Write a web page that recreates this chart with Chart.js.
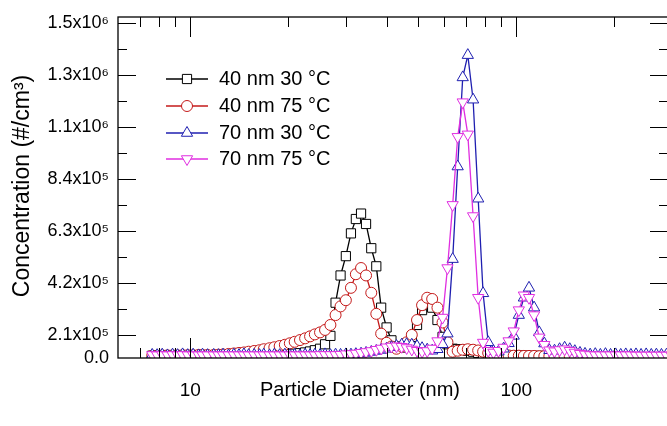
<!DOCTYPE html>
<html>
<head>
<meta charset="utf-8">
<script src="https://cdn.jsdelivr.net/npm/chart.js@4.4.1/dist/chart.umd.min.js"></script>
<style>
  html, body { margin: 0; padding: 0; overflow: hidden; background: #fff; }
</style>
</head>
<body>
<canvas id="chart" width="680" height="426"></canvas>
<script>
// SMPS channel diameters (nm), 64 channels per decade
const diameters = [
  7.64, 7.91, 8.20, 8.51, 8.82, 9.14, 9.47, 9.82, 10.2, 10.6,
  10.9, 11.3, 11.8, 12.2, 12.6, 13.1, 13.6, 14.1, 14.6, 15.1,
  15.7, 16.3, 16.8, 17.5, 18.1, 18.8, 19.5, 20.2, 20.9, 21.7,
  22.5, 23.3, 24.1, 25.0, 25.9, 26.9, 27.9, 28.9, 30.0, 31.1,
  32.2, 33.4, 34.6, 35.9, 37.2, 38.5, 40.0, 41.4, 42.9, 44.5,
  46.1, 47.8, 49.6, 51.4, 53.3, 55.2, 57.3, 59.4, 61.5, 63.8,
  66.1, 68.5, 71.0, 73.7, 76.4, 79.1, 82.0, 85.1, 88.2, 91.4,
  94.7, 98.2, 101.8, 105.5, 109.4, 113.4, 117.6, 121.9, 126.3, 131.0,
  135.8, 140.7, 145.9, 151.2, 156.8, 162.5, 168.5, 174.7, 181.1, 187.7,
  194.6, 201.7, 209.1, 216.7, 224.7, 232.9, 241.4, 250.3, 259.5, 269.0,
  278.8, 289.0, 299.6
];

// concentrations (#/cm3), read against the labelled ticks
const conc40nm30C = [
  1.26e5, 1.27e5, 1.26e5, 1.27e5, 1.27e5, 1.26e5, 1.27e5, 1.27e5, 1.27e5, 1.26e5,
  1.27e5, 1.27e5, 1.27e5, 1.27e5, 1.28e5, 1.27e5, 1.28e5, 1.28e5, 1.28e5, 1.28e5,
  1.29e5, 1.29e5, 1.29e5, 1.29e5, 1.30e5, 1.30e5, 1.31e5, 1.32e5, 1.34e5, 1.36e5,
  1.39e5, 1.43e5, 1.48e5, 1.54e5, 1.72e5, 2.06e5, 3.4e5, 4.5e5, 5.28e5, 6.2e5,
  6.78e5, 7.0e5, 6.58e5, 5.6e5, 4.87e5, 3.2e5, 2.4e5, 1.88e5, 1.63e5, 1.59e5,
  1.76e5, 2.02e5, 2.5e5, 3.1e5, 3.3e5, 3.2e5, 2.7e5, 2.02e5, 1.72e5, 1.54e5,
  1.52e5, 1.50e5, 1.46e5, 1.42e5, 1.37e5, 1.33e5, 1.30e5, 1.29e5, 1.27e5, 1.26e5,
  1.26e5, 1.26e5, 1.26e5, 1.26e5, 1.25e5, 1.25e5, 1.25e5, 1.25e5, 1.25e5, 1.25e5,
  1.24e5, 1.24e5, 1.24e5, 1.24e5
];
const conc40nm75C = [
  1.26e5, 1.26e5, 1.27e5, 1.27e5, 1.27e5, 1.27e5, 1.28e5, 1.28e5, 1.28e5, 1.29e5,
  1.29e5, 1.29e5, 1.29e5, 1.30e5, 1.31e5, 1.33e5, 1.35e5, 1.37e5, 1.39e5, 1.42e5,
  1.45e5, 1.48e5, 1.52e5, 1.56e5, 1.60e5, 1.65e5, 1.70e5, 1.76e5, 1.82e5, 1.89e5,
  1.96e5, 2.04e5, 2.12e5, 2.2e5, 2.3e5, 2.5e5, 2.9e5, 3.25e5, 3.5e5, 4.0e5,
  4.55e5, 4.8e5, 4.5e5, 3.8e5, 2.95e5, 2.15e5, 1.78e5, 1.63e5, 1.54e5, 1.63e5,
  1.80e5, 2.1e5, 2.7e5, 3.3e5, 3.6e5, 3.55e5, 3.2e5, 2.6e5, 1.8e5, 1.42e5,
  1.46e5, 1.50e5, 1.52e5, 1.50e5, 1.47e5, 1.42e5, 1.37e5, 1.33e5, 1.30e5, 1.28e5,
  1.27e5, 1.26e5, 1.26e5, 1.25e5, 1.25e5, 1.25e5, 1.24e5, 1.24e5, 1.24e5, 1.24e5,
  1.23e5, 1.23e5, 1.23e5, 1.23e5
];
const conc70nm30C = [
  1.29e5, 1.28e5, 1.30e5, 1.27e5, 1.30e5, 1.28e5, 1.31e5, 1.28e5, 1.30e5, 1.27e5,
  1.30e5, 1.28e5, 1.29e5, 1.28e5, 1.30e5, 1.27e5, 1.30e5, 1.28e5, 1.31e5, 1.28e5,
  1.29e5, 1.28e5, 1.30e5, 1.27e5, 1.30e5, 1.28e5, 1.30e5, 1.28e5, 1.29e5, 1.27e5,
  1.30e5, 1.28e5, 1.30e5, 1.28e5, 1.31e5, 1.28e5, 1.30e5, 1.29e5, 1.31e5, 1.30e5,
  1.32e5, 1.34e5, 1.37e5, 1.41e5, 1.45e5, 1.49e5, 1.54e5, 1.60e5, 1.65e5, 1.70e5,
  1.72e5, 1.70e5, 1.64e5, 1.56e5, 1.50e5, 1.46e5, 1.52e5, 1.72e5, 2.15e5, 5.16e5,
  8.9e5, 1.25e6, 1.34e6, 1.16e6, 7.6e5, 3.78e5, 1.80e5, 1.44e5, 1.42e5, 1.54e5,
  1.76e5, 2.06e5, 2.9e5, 3.6e5, 4.0e5, 3.2e5, 2.2e5, 1.75e5, 1.48e5, 1.46e5,
  1.52e5, 1.58e5, 1.52e5, 1.44e5, 1.37e5, 1.33e5, 1.30e5, 1.32e5, 1.29e5, 1.32e5,
  1.29e5, 1.31e5, 1.29e5, 1.31e5, 1.29e5, 1.31e5, 1.29e5, 1.31e5, 1.29e5, 1.30e5,
  1.29e5, 1.30e5, 1.29e5
];
const conc70nm75C = [
  1.29e5, 1.28e5, 1.29e5, 1.28e5, 1.29e5, 1.28e5, 1.29e5, 1.28e5, 1.28e5, 1.28e5,
  1.28e5, 1.28e5, 1.28e5, 1.28e5, 1.28e5, 1.28e5, 1.28e5, 1.28e5, 1.28e5, 1.28e5,
  1.28e5, 1.28e5, 1.28e5, 1.28e5, 1.28e5, 1.28e5, 1.28e5, 1.28e5, 1.28e5, 1.28e5,
  1.28e5, 1.28e5, 1.28e5, 1.29e5, 1.29e5, 1.29e5, 1.29e5, 1.30e5, 1.32e5, 1.33e5,
  1.35e5, 1.38e5, 1.41e5, 1.45e5, 1.50e5, 1.55e5, 1.60e5, 1.63e5, 1.64e5, 1.62e5,
  1.57e5, 1.51e5, 1.46e5, 1.43e5, 1.45e5, 1.55e5, 1.85e5, 2.8e5, 4.8e5, 7.35e5,
  1.01e6, 1.15e6, 1.02e6, 6.9e5, 3.6e5, 1.79e5, 1.46e5, 1.39e5, 1.46e5, 1.59e5,
  1.85e5, 2.25e5, 3.1e5, 3.7e5, 3.6e5, 2.9e5, 2.0e5, 1.7e5, 1.48e5, 1.44e5,
  1.49e5, 1.52e5, 1.46e5, 1.39e5, 1.34e5, 1.31e5, 1.29e5, 1.28e5, 1.28e5, 1.28e5,
  1.28e5, 1.28e5, 1.28e5, 1.28e5, 1.28e5, 1.27e5, 1.27e5, 1.27e5, 1.27e5, 1.27e5,
  1.27e5, 1.27e5, 1.27e5
];

const seriesNames = ['40 nm 30 °C', '40 nm 75 °C', '70 nm 30 °C', '70 nm 75 °C'];
const seriesColors = ['#000000', '#c41a1a', '#1f1fb0', '#e02ee0'];
const seriesMarkers = ['rect', 'circle', 'triangle', 'triangle'];
const seriesRotation = [0, 0, 0, 180];
const seriesValues = [conc40nm30C, conc40nm75C, conc70nm30C, conc70nm75C];

const yMin = 1.166e5;
const yMax = 1.494e6;
const yTickValues = [yMin, 2.1e5, 4.2e5, 6.3e5, 8.4e5, 1.05e6, 1.26e6, 1.47e6];
const yTickLabels = ['0.0', '2.1x10⁵', '4.2x10⁵', '6.3x10⁵', '8.4x10⁵', '1.1x10⁶', '1.3x10⁶', '1.5x10⁶'];
const xTickValues = [10, 100];
const xMinorTicks = [7, 8, 9, 20, 30, 40, 50, 60, 70, 80, 90, 200];

const FONT = 'Liberation Sans, Arial, sans-serif';
const markerRadius = [6.5, 5.5, 6.5, 6.5];

function buildDataset(i) {
  return {
    label: seriesNames[i],
    data: seriesValues[i].map((v, k) => ({ x: diameters[k], y: v })),
    borderColor: seriesColors[i],
    borderWidth: 1.3,
    backgroundColor: '#ffffff',
    pointStyle: seriesMarkers[i],
    pointRotation: seriesRotation[i],
    pointRadius: markerRadius[i],
    pointBorderWidth: 1,
    pointBorderColor: seriesColors[i],
    pointBackgroundColor: '#ffffff',
    tension: 0,
    fill: false
  };
}

// draw order: later legend entries on top
const datasets = [3, 2, 1, 0].map(buildDataset);

const framePlugin = {
  id: 'frame',
  afterDraw(chart) {
    const { ctx, chartArea: a, scales } = chart;
    const xs = scales.x, ys = scales.y;
    ctx.save();
    ctx.strokeStyle = '#000';
    ctx.lineWidth = 1.3;
    ctx.strokeRect(a.left, a.top, a.right - a.left, a.bottom - a.top);

    ctx.lineWidth = 1;
    ctx.beginPath();
    // y ticks, inside on both sides
    for (let k = 2; k <= 14; k++) {
      const v = k * 1.05e5;
      const py = Math.round(ys.getPixelForValue(v)) + 0.5;
      const len = k % 2 === 0 ? 18 : 9;
      ctx.moveTo(a.left, py); ctx.lineTo(a.left + len, py);
      ctx.moveTo(a.right, py); ctx.lineTo(a.right - len, py);
    }
    // x ticks, inside bottom and top
    xTickValues.concat(xMinorTicks).forEach(v => {
      const px = Math.round(xs.getPixelForValue(v)) + 0.5;
      const len = xTickValues.includes(v) ? 20 : 10;
      ctx.moveTo(px, a.bottom); ctx.lineTo(px, a.bottom - len);
      ctx.moveTo(px, a.top); ctx.lineTo(px, a.top + len);
    });
    ctx.stroke();

    // axis titles
    ctx.fillStyle = '#000';
    ctx.textAlign = 'center';
    ctx.textBaseline = 'middle';
    ctx.font = '20px ' + FONT;
    ctx.fillText('Particle Diameter (nm)', 360, 390);
    ctx.save();
    ctx.translate(23, 186);
    ctx.rotate(-Math.PI / 2);
    ctx.font = '23px ' + FONT;
    ctx.fillText('Concentration (#/cm³)', 0, 0);
    ctx.restore();

    // legend
    const rows = [79, 106, 133, 159];
    ctx.font = '20px ' + FONT;
    ctx.textAlign = 'left';
    for (let i = 0; i < 4; i++) {
      const y = rows[i];
      ctx.strokeStyle = seriesColors[i];
      ctx.lineWidth = 1.3;
      ctx.beginPath();
      ctx.moveTo(166, y); ctx.lineTo(208, y);
      ctx.stroke();
      ctx.fillStyle = '#fff';
      ctx.lineWidth = 1;
      Chart.helpers.drawPoint(ctx, {
        pointStyle: seriesMarkers[i],
        rotation: seriesRotation[i],
        radius: markerRadius[i],
        borderWidth: 1
      }, 187, y);
      ctx.fillStyle = '#000';
      ctx.fillText(seriesNames[i], 219, y);
    }
    ctx.restore();
  }
};

new Chart(document.getElementById('chart'), {
  type: 'line',
  data: { datasets },
  options: {
    responsive: false,
    animation: false,
    devicePixelRatio: 1,
    layout: { padding: { top: 17, right: 12, left: 0, bottom: 0 } },
    plugins: { legend: { display: false }, tooltip: { enabled: false } },
    scales: {
      x: {
        type: 'logarithmic',
        min: 6,
        max: 292,
        grid: { display: false },
        border: { display: false },
        afterBuildTicks: s => { s.ticks = xTickValues.map(v => ({ value: v })); },
        afterFit: s => { s.height = 68; },
        ticks: {
          autoSkip: false,
          maxRotation: 0,
          padding: 13,
          color: '#000',
          font: { family: FONT, size: 19 },
          callback: v => String(v)
        }
      },
      y: {
        type: 'linear',
        min: yMin,
        max: yMax,
        grid: { display: false },
        border: { display: false },
        afterBuildTicks: s => { s.ticks = yTickValues.map(v => ({ value: v })); },
        afterFit: s => { s.width = 118; },
        ticks: {
          padding: 1,
          color: '#000',
          font: { family: FONT, size: 18 },
          callback: (v, i) => yTickLabels[i]
        }
      }
    }
  },
  plugins: [framePlugin]
});
</script>
</body>
</html>
